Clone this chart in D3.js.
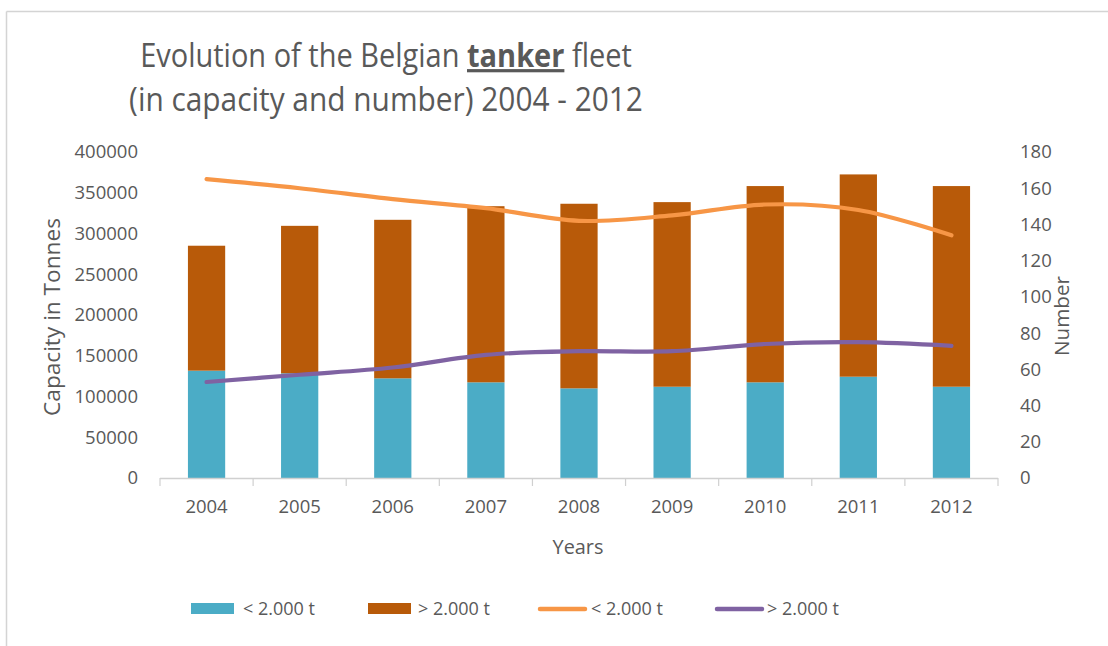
<!DOCTYPE html>
<html>
<head>
<meta charset="utf-8">
<script src="https://cdn.jsdelivr.net/npm/d3@7"></script>
<style>
  html, body { margin: 0; padding: 0; background: #fff; }
  svg { display: block; font-family: "Open Sans", "Noto Sans", sans-serif; }
</style>
</head>
<body>
<svg id="chart" width="1108" height="646"></svg>
<script>
// Belgian tanker fleet, 2004-2012
const years = ["2004", "2005", "2006", "2007", "2008", "2009", "2010", "2011", "2012"];
// Capacity in tonnes (stacked bars, left axis)
const capacitySmall = [131700, 128500, 122300, 117400, 110000, 112000, 117400, 124300, 112000];
const capacityLarge = [153300, 180900, 194500, 216100, 226500, 226500, 240800, 248200, 246200];
// Number of ships (smoothed lines, right axis)
const numberSmall = [165, 160, 154, 149, 142, 145, 151, 148, 134];
const numberLarge = [53, 57, 61, 68, 70, 70, 74, 75, 73];
const leftTicks = [0, 50000, 100000, 150000, 200000, 250000, 300000, 350000, 400000];
const rightTicks = [0, 20, 40, 60, 80, 100, 120, 140, 160, 180];
const legendLabels = ["< 2.000 t", "> 2.000 t", "< 2.000 t", "> 2.000 t"];

const colTeal = "#4BACC6", colBrown = "#B85A09", colOrange = "#F79646", colPurple = "#7F62A2";
const textCol = "#595959";

const svg = d3.select("#chart");

// squeeze or stretch a text element to a given width by scaling its font size
function fitWidth(sel, size, width) {
  sel.attr("font-size", size);
  const w = sel.node().getComputedTextLength();
  sel.attr("font-size", size * width / w);
}

// chart frame (top and left edge)
svg.append("line").attr("x1", 6.5).attr("x2", 1108).attr("y1", 11.5).attr("y2", 11.5)
  .attr("stroke", "#d4d4d4").attr("stroke-width", 1.5);
svg.append("line").attr("x1", 6.5).attr("x2", 6.5).attr("y1", 11.5).attr("y2", 646)
  .attr("stroke", "#d4d4d4").attr("stroke-width", 1.5);

const plotLeft = 160, plotRight = 998, plotTop = 152, plotBottom = 478;

const x = d3.scaleBand().domain(years).range([plotLeft, plotRight])
  .paddingInner(0.6).paddingOuter(0.3);
const yL = d3.scaleLinear().domain([0, 400000]).range([plotBottom, plotTop]);
const yR = d3.scaleLinear().domain([0, 180]).range([plotBottom, plotTop]);

// stacked bars
const rows = years.map((y, i) => ({ year: y, small: capacitySmall[i], large: capacityLarge[i] }));
const stack = d3.stack().keys(["small", "large"])(rows);
const barColors = { small: colTeal, large: colBrown };
svg.append("g").selectAll("g").data(stack).join("g")
  .attr("fill", d => barColors[d.key])
  .selectAll("rect").data(d => d).join("rect")
  .attr("x", d => x(d.data.year))
  .attr("width", x.bandwidth())
  .attr("y", d => yL(d[1]))
  .attr("height", d => yL(d[0]) - yL(d[1]));

// x axis line with ticks at category boundaries
const xAxisG = svg.append("g").attr("transform", `translate(0,${plotBottom})`);
xAxisG.append("line").attr("x1", plotLeft).attr("x2", plotRight).attr("y1", 0.5).attr("y2", 0.5)
  .attr("stroke", "#d0d0d0").attr("stroke-width", 1.5);
xAxisG.selectAll("line.tk").data(d3.range(years.length + 1)).join("line")
  .attr("class", "tk")
  .attr("x1", i => plotLeft + i * x.step())
  .attr("x2", i => plotLeft + i * x.step())
  .attr("y1", 0).attr("y2", 8)
  .attr("stroke", "#d0d0d0").attr("stroke-width", 1.2);
xAxisG.selectAll("text").data(years).join("text")
  .attr("x", d => x(d) + x.bandwidth() / 2)
  .attr("y", 29)
  .attr("dy", "0.35em")
  .attr("text-anchor", "middle")
  .attr("fill", textCol).attr("font-size", 18.5)
  .text(d => d);

// left axis labels
const axL = d3.axisLeft(yL).tickValues(leftTicks).tickSize(0).tickPadding(0).tickFormat(d3.format("d"));
const gL = svg.append("g").attr("transform", "translate(138,0)").call(axL);
gL.select(".domain").remove();
gL.selectAll("text").attr("fill", textCol).attr("font-size", 18.5)
  .attr("font-family", "\"Open Sans\", sans-serif");

// right axis labels
const axR = d3.axisRight(yR).tickValues(rightTicks).tickSize(0).tickPadding(0);
const gR = svg.append("g").attr("transform", "translate(1020,0)").call(axR);
gR.select(".domain").remove();
gR.selectAll("text").attr("fill", textCol).attr("font-size", 18.5)
  .attr("font-family", "\"Open Sans\", sans-serif");

// axis titles
const tl = svg.append("text").attr("transform", "translate(60,317) rotate(-90)")
  .attr("text-anchor", "middle").attr("fill", textCol)
  .text("Capacity in Tonnes");
fitWidth(tl, 18, 198);
const tr = svg.append("text").attr("transform", "translate(1069,316) rotate(-90)")
  .attr("text-anchor", "middle").attr("fill", textCol)
  .text("Number");
fitWidth(tr, 18, 80);
const tb = svg.append("text").attr("x", 578).attr("y", 554)
  .attr("text-anchor", "middle").attr("fill", textCol)
  .text("Years");
fitWidth(tb, 18, 51);

// smoothed number lines
const line = d3.line()
  .x((d, i) => x(years[i]) + x.bandwidth() / 2)
  .y(d => yR(d))
  .curve(d3.curveCatmullRom.alpha(0.5));
[[numberSmall, colOrange], [numberLarge, colPurple]].forEach(([vals, c]) => {
  svg.append("path").datum(vals).attr("d", line)
    .attr("fill", "none").attr("stroke", c).attr("stroke-width", 4.2)
    .attr("stroke-linecap", "round").attr("stroke-linejoin", "round");
});

// title, two lines, horizontally condensed to the target widths
function titleLine(y, width, build) {
  const g = svg.append("g").attr("transform", `translate(386,${y})`);
  const t = g.append("text").attr("text-anchor", "middle").attr("fill", textCol).attr("font-size", 32);
  build(t);
  const w = t.node().getComputedTextLength();
  t.attr("transform", `scale(${width / w},1)`);
}
titleLine(67, 492, t => {
  t.append("tspan").text("Evolution of the Belgian ");
  t.append("tspan").attr("font-weight", "bold").attr("text-decoration", "underline").text("tanker");
  t.append("tspan").text(" fleet");
});
titleLine(111, 514, t => t.text("(in capacity and number) 2004 - 2012"));

// legend
const legend = svg.append("g");
const legendItems = [
  { type: "rect", color: colTeal, x: 191, tx: 243 },
  { type: "rect", color: colBrown, x: 368, tx: 418 },
  { type: "line", color: colOrange, x: 538, tx: 591 },
  { type: "line", color: colPurple, x: 715, tx: 767 }
];
legendItems.forEach((it, i) => {
  if (it.type === "rect") {
    legend.append("rect").attr("x", it.x).attr("y", 603).attr("width", 43).attr("height", 11)
      .attr("fill", it.color);
  } else {
    legend.append("line").attr("x1", it.x + 2).attr("x2", it.x + 47).attr("y1", 609).attr("y2", 609)
      .attr("stroke", it.color).attr("stroke-width", 4.5).attr("stroke-linecap", "round");
  }
  const t = legend.append("text").attr("x", it.tx).attr("y", 609).attr("dy", "0.35em")
    .attr("fill", textCol).text(legendLabels[i]);
  fitWidth(t, 17, 72);
});
</script>
</body>
</html>
